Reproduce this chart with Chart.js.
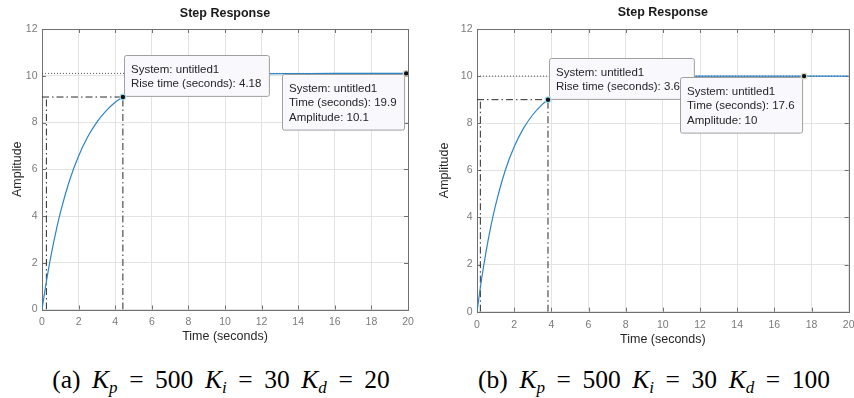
<!DOCTYPE html>
<html>
<head>
<meta charset="utf-8">
<script src="https://cdn.jsdelivr.net/npm/chart.js@4.4.1/dist/chart.umd.min.js"></script>
<style>
  body { margin: 0; background: #fff; width: 854px; height: 398px; overflow: hidden; position: relative; }
  canvas { position: absolute; top: 0; }
  #left { left: 0; }
  #right { left: 427px; }
  .cap { position: absolute; top: 365px; font-family: "Liberation Serif", "DejaVu Serif", serif; font-size: 25.5px; word-spacing: 5.2px; color: #000; white-space: nowrap; transform: translateX(-50%); }
  .cap sub { font-size: 17px; vertical-align: -5px; line-height: 0; word-spacing: 0; }
</style>
</head>
<body>
<canvas id="left" width="427" height="350"></canvas>
<canvas id="right" width="440" height="350"></canvas>
<div class="cap" style="left:221px">(a) <i>K</i><sub><i>p</i></sub> = 500 <i>K</i><sub><i>i</i></sub> = 30 <i>K</i><sub><i>d</i></sub> = 20</div>
<div class="cap" style="left:654px">(b) <i>K</i><sub><i>p</i></sub> = 500 <i>K</i><sub><i>i</i></sub> = 30 <i>K</i><sub><i>d</i></sub> = 100</div>
<script>
// axis ticks
const timeTicks = [0, 2, 4, 6, 8, 10, 12, 14, 16, 18, 20]
const ampTicks = [0, 2, 4, 6, 8, 10, 12]

// (a) Kd = 20
const leftTime = [0, 0.25, 0.5, 0.75, 1, 1.5, 2, 2.5, 3, 3.5, 4, 4.42, 5, 6, 7, 8, 9, 10, 12, 14, 16, 18, 19.9]
const leftAmp = [0, 1.25, 2.34, 3.29, 4.13, 5.51, 6.57, 7.39, 8.02, 8.5, 8.87, 9.09, 9.37, 9.67, 9.85, 9.95, 10.01, 10.05, 10.08, 10.09, 10.1, 10.1, 10.1]
const leftRiseTimes = [0.24, 4.42]   // 10% and 90% crossings
const leftRiseLevel = 9.09
const leftFinal = 10.1
const leftTip = [19.9, 10.1]

// (b) Kd = 100
const rightTime = [0, 0.25, 0.5, 0.75, 1, 1.5, 2, 2.5, 3, 3.5, 3.82, 4.5, 5, 6, 7, 8, 10, 12, 14, 17.6, 20]
const rightAmp = [0, 1.4, 2.6, 3.64, 4.52, 5.95, 7.0, 7.78, 8.36, 8.79, 9.0, 9.34, 9.51, 9.73, 9.85, 9.92, 9.98, 10.0, 10.0, 10.0, 10.0]
const rightRiseTimes = [0.18, 3.82]
const rightRiseLevel = 9.0
const rightFinal = 10
const rightTip = [17.6, 10]

const SANS = "'Liberation Sans', Arial, sans-serif"
const AXIS = "#707070"

// box round the axes plus MATLAB style inward ticks
const frame = {
    id: "frame",
    beforeDatasetsDraw(chart) {
        const {ctx, chartArea: a, scales: {x, y}} = chart
        ctx.save()
        ctx.strokeStyle = AXIS
        ctx.lineWidth = 1
        ctx.beginPath()
        x.ticks.forEach(t => {
            const px = Math.round(x.getPixelForValue(t.value)) + 0.5
            ctx.moveTo(px, a.bottom); ctx.lineTo(px, a.bottom - 4)
            ctx.moveTo(px, a.top); ctx.lineTo(px, a.top + 4)
        })
        y.ticks.forEach(t => {
            const py = Math.round(y.getPixelForValue(t.value)) + 0.5
            ctx.moveTo(a.left, py); ctx.lineTo(a.left + 4, py)
            ctx.moveTo(a.right, py); ctx.lineTo(a.right - 4, py)
        })
        ctx.stroke()
        ctx.strokeRect(Math.round(a.left) + 0.5, Math.round(a.top) + 0.5, Math.round(a.right - a.left), Math.round(a.bottom - a.top))
        ctx.restore()
    }
}

// datatip boxes, drawn right after the response curve so the markers land on top
const datatips = {
    id: "datatips",
    afterDatasetDraw(chart, args, opts) {
        if (args.index !== 0) return
        const {ctx, scales: {x, y}} = chart
        ctx.save()
        ctx.font = `11.5px ${SANS}`
        opts.tips.forEach(tip => {
            const px = x.getPixelForValue(tip.at[0])
            const py = y.getPixelForValue(tip.at[1])
            const w = Math.max(...tip.lines.map(l => ctx.measureText(l).width)) + 14.5
            const h = tip.lines.length * 14.7 + 11.5
            const bx = Math.round(tip.above ? px + 1.5 : px - w - 2) + 0.5
            const by = Math.round(tip.above ? py - h - 1 : py + 1) + 0.5
            ctx.beginPath()
            ctx.roundRect(bx, by, w, h, 2)
            ctx.fillStyle = "#f8f8fd"
            ctx.fill()
            ctx.strokeStyle = "#a0a0a0"
            ctx.lineWidth = 1
            ctx.stroke()
            ctx.fillStyle = "#262626"
            ctx.textBaseline = "middle"
            tip.lines.forEach((l, i) => ctx.fillText(l, bx + 6.5, by + 14 + i * 14.7))
        })
        ctx.restore()
    }
}

function line(xs, ys, extra) {
    return Object.assign({
        data: xs.map((v, i) => ({x: v, y: ys[i]})),
        showLine: true,
        pointRadius: 0,
        borderWidth: 1,
        borderColor: "#2b2b2b",
        fill: false
    }, extra)
}

function stepChart(id, g) {
    const dashDot = [7, 3, 1.5, 3]
    const [t10, t90] = g.rise
    return new Chart(document.getElementById(id), {
        type: "scatter",
        data: {
            datasets: [
                line(g.time, g.amp, {borderColor: "#2c84c8", borderWidth: 1.2, cubicInterpolationMode: "monotone", order: 1}),
                line([0, t90], [g.level, g.level], {borderDash: dashDot, order: 2}),
                line([t10, t10], [0, g.level], {borderDash: dashDot, order: 2}),
                line([t90, t90], [0, g.level], {borderDash: dashDot, order: 2}),
                line([0, 20], [g.final, g.final], {borderDash: [1, 2], borderColor: "#555", order: 3}),
                {
                    data: [{x: t90, y: g.level}, {x: g.tip[0], y: g.tip[1]}],
                    pointRadius: 2.8,
                    pointBackgroundColor: "#111",
                    pointBorderColor: ["#a6dcee", "#d8d8c8"],
                    pointBorderWidth: 1.2,
                    order: 0
                }
            ]
        },
        options: {
            responsive: false,
            animation: false,
            layout: {padding: {left: 0, right: g.padRight, top: 0, bottom: 0}},
            scales: {
                x: {
                    type: "linear", min: 0, max: 20,
                    afterBuildTicks: s => { s.ticks = timeTicks.map(v => ({value: v})) },
                    afterFit: s => { s.height = g.xHeight },
                    grid: {color: "#e3e3e3", drawTicks: false},
                    border: {display: false},
                    ticks: {color: "#7a7a7a", font: {family: SANS, size: 10.5}, padding: g.xPad, maxRotation: 0},
                    title: {display: true, text: "Time (seconds)", color: "#262626", font: {family: SANS, size: 12.5}, padding: {top: 0, bottom: g.xTitlePad}}
                },
                y: {
                    type: "linear", min: 0, max: 12,
                    afterBuildTicks: s => { s.ticks = ampTicks.map(v => ({value: v})) },
                    afterFit: s => { s.width = g.yWidth },
                    grid: {color: "#e3e3e3", drawTicks: false},
                    border: {display: false},
                    ticks: {color: "#7a7a7a", font: {family: SANS, size: 10.5}, padding: 4.5},
                    title: {display: true, text: "Amplitude", color: "#262626", font: {family: SANS, size: 12.5}, padding: {top: 10, bottom: 0}}
                }
            },
            plugins: {
                legend: {display: false},
                tooltip: {enabled: false},
                title: {
                    display: true, text: "Step Response", fullSize: false, color: "#1a1a1a",
                    font: {family: SANS, size: 12.5, weight: "bold"},
                    padding: {top: g.titleTop, bottom: 29 - g.titleTop - 15}
                },
                datatips: {tips: [
                    {at: [t90, g.level], above: true, lines: ["System: untitled1", `Rise time (seconds): ${(t90 - t10).toFixed(2)}`]},
                    {at: g.tip, above: false, lines: ["System: untitled1", `Time (seconds): ${g.tip[0]}`, `Amplitude: ${g.tip[1]}`]}
                ]}
            }
        },
        plugins: [frame, datatips]
    })
}

stepChart("left", {
    time: leftTime, amp: leftAmp, rise: leftRiseTimes, level: leftRiseLevel, final: leftFinal, tip: leftTip,
    yWidth: 42, padRight: 19, xHeight: 40.5, xPad: 6, xTitlePad: 5.8, titleTop: 6
})
stepChart("right", {
    time: rightTime, amp: rightAmp, rise: rightRiseTimes, level: rightRiseLevel, final: rightFinal, tip: rightTip,
    yWidth: 50, padRight: 18.3, xHeight: 38.3, xPad: 7, xTitlePad: 2.8, titleTop: 5.5
})
</script>
</body>
</html>
